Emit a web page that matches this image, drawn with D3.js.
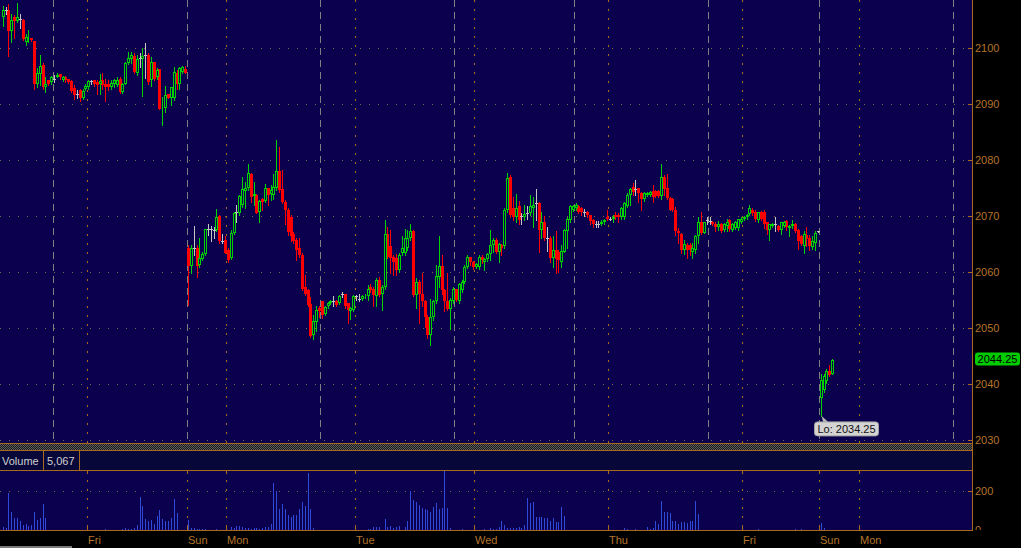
<!DOCTYPE html>
<html><head><meta charset="utf-8">
<script src="https://cdn.jsdelivr.net/npm/d3@7"></script>
<style>html,body{margin:0;padding:0;background:#000;overflow:hidden}svg{display:block}</style>
</head><body><svg id="c" width="1021" height="548"></svg>
<script>
// ---- data (30-minute bars, one entry per bar) ----
const open = [
2105.4,2106.7,2106.7,2103.0,2105.4,2104.8,2105.2,2104.9,2101.1,2101.5,
2101.8,2101.2,2093.6,2095.3,2096.9,2093.0,2094.2,2093.9,2094.5,2094.8,
2095.3,2094.2,2094.8,2094.4,2094.0,2092.8,2091.8,2092.4,2091.1,2092.7,
2092.9,2094.0,2094.2,2093.9,2093.5,2094.2,2093.6,2093.5,2092.9,2093.6,
2093.3,2094.4,2092.1,2093.6,2097.2,2097.9,2098.6,2095.5,2098.1,2097.9,
2098.7,2098.7,2094.2,2097.5,2094.7,2096.2,2089.2,2089.3,2091.8,2091.1,
2091.1,2095.5,2093.6,2095.7,2096.2,
2064.2,2061.1,2064.2,2064.2,2061.2,2062.3,2063.1,2067.6,2067.6,2067.4,
2067.4,2069.9,2065.5,2065.7,2063.9,2062.4,2066.9,2070.6,2070.4,2071.9,
2074.4,2074.9,2077.4,2073.6,2073.7,2070.6,2073.0,2072.6,2074.9,2073.8,
2073.7,2075.0,2078.0,2074.8,2072.5,2071.0,2069.8,2066.8,2065.7,2064.2,
2063.0,2057.3,2056.7,2054.3,2048.7,2051.1,2053.6,2054.8,2052.5,
2053.8,2054.4,2054.7,2054.7,2054.4,2056.0,2056.0,2054.4,2052.9,2053.2,
2055.6,2055.1,2055.1,2055.6,2055.6,2057.3,2057.0,2055.6,2058.5,2056.1,
2057.3,2066.7,2064.5,2062.7,2062.4,2060.3,2063.3,2063.3,2064.2,2066.0,
2067.3,2055.8,2058.2,2056.1,2054.7,2052.0,2048.7,2051.9,2054.7,2059.1,
2061.0,2056.7,2054.7,2053.3,2054.7,2056.9,2054.7,2056.7,2058.2,2060.9,
2062.6,2061.8,2060.8,2060.9,2062.7,2061.8,2062.2,2063.2,2064.8,2065.7,
2063.6,2064.8,2064.5,2071.0,2077.0,
2071.4,2069.8,2071.8,2070.0,2069.7,2070.4,2070.4,2071.4,2072.2,2072.3,
2067.5,2068.8,2066.0,2066.0,2062.5,2063.9,2063.5,2061.8,2063.6,2067.3,
2069.2,2071.0,2071.3,2071.8,2071.3,2070.7,2070.7,2070.1,2069.2,2068.5,
2068.5,2068.5,2068.8,
2069.8,2069.5,2069.4,2070.1,2070.1,2069.7,2069.7,2071.7,2073.7,2075.1,
2074.7,2074.9,2074.1,2072.9,2073.7,2073.7,2074.5,2074.5,2074.4,2073.5,
2077.0,2074.9,2073.1,2072.9,2071.1,2067.3,2066.7,2063.8,2064.8,2064.8,
2063.6,2063.8,2066.3,2068.9,2067.0,2069.2,2069.1,2068.9,2068.6,2067.9,
2068.5,2067.5,2068.2,2069.2,2067.5,2067.8,2067.8,2068.9,2069.4,2069.7,
2070.3,2071.1,2070.7,2069.2,2070.7,2070.7,2068.8,2067.5,2068.1,2068.5,
2068.2,2067.5,2068.1,2069.1,2067.8,2068.1,2068.5,2067.5,2066.3,2064.6,
2066.6,2066.0,2064.4,2065.2,2067.2,
2037.4,2038.9,2040.4,2042.3,2041.8];
const high = [
2107.4,2107.3,2107.8,2106.0,2105.8,2107.9,2106.1,2105.2,2102.5,2103.1,
2101.8,2101.2,2096.3,2098.7,2097.2,2094.7,2094.2,2094.9,2095.1,2095.4,
2095.3,2094.9,2094.9,2094.5,2094.2,2093.3,2092.4,2092.7,2092.7,2093.5,
2094.3,2094.3,2094.2,2094.2,2095.3,2095.5,2094.4,2094.2,2094.2,2094.5,
2094.8,2094.7,2093.7,2097.5,2099.3,2099.3,2099.0,2098.7,2099.0,2099.9,
2100.9,2099.0,2098.4,2097.5,2096.3,2096.2,2091.2,2093.1,2091.8,2093.0,
2096.6,2096.0,2096.6,2096.8,2096.7,
2064.8,2064.8,2068.2,2064.8,2066.0,2063.5,2067.7,2068.6,2068.2,2068.0,
2071.2,2070.1,2066.7,2066.3,2064.2,2067.4,2070.7,2071.9,2073.7,2077.0,
2076.1,2079.2,2077.6,2076.1,2073.8,2072.8,2073.2,2075.6,2075.0,2075.5,
2077.4,2083.5,2082.3,2078.2,2072.8,2071.3,2070.1,2067.1,2066.0,2066.0,
2063.3,2059.4,2057.0,2055.5,2052.3,2053.8,2053.9,2054.8,2053.9,
2054.6,2054.9,2055.7,2054.9,2055.9,2056.3,2056.1,2054.5,2053.7,2055.8,
2055.9,2056.0,2055.9,2056.1,2057.7,2057.8,2057.3,2058.8,2059.1,2057.6,
2069.2,2068.0,2067.5,2063.0,2063.1,2063.3,2066.3,2067.7,2067.4,2068.6,
2067.5,2058.9,2058.5,2059.7,2054.9,2052.3,2055.2,2055.0,2061.2,2066.3,
2063.0,2057.0,2059.8,2055.3,2057.3,2057.0,2058.0,2058.5,2061.2,2062.9,
2062.7,2062.0,2061.5,2063.0,2063.0,2062.4,2063.4,2067.5,2066.0,2066.0,
2065.1,2065.0,2071.3,2077.6,2077.3,
2073.4,2073.8,2072.6,2070.5,2071.9,2071.7,2073.7,2073.4,2074.8,2072.5,
2070.7,2070.0,2068.0,2066.3,2066.3,2067.3,2063.9,2064.8,2067.6,2069.7,
2071.9,2072.0,2072.2,2072.0,2071.6,2071.2,2070.9,2070.2,2069.5,2069.1,
2069.0,2069.2,2069.4,
2071.0,2069.8,2070.1,2070.6,2070.4,2071.6,2072.5,2074.0,2074.9,2075.9,
2076.4,2075.0,2074.3,2074.3,2074.3,2074.5,2075.5,2074.6,2074.6,2079.2,
2077.3,2077.5,2073.3,2073.1,2071.6,2067.8,2067.0,2065.6,2065.2,2065.1,
2065.1,2066.6,2069.7,2070.7,2068.9,2069.7,2069.8,2069.1,2068.8,2069.1,
2068.7,2068.7,2069.5,2069.4,2068.7,2069.0,2069.5,2069.7,2070.0,2070.3,
2071.9,2071.3,2071.0,2070.7,2070.9,2071.0,2068.9,2068.6,2068.7,2069.8,
2068.4,2068.9,2069.1,2069.2,2068.3,2069.2,2068.7,2067.7,2066.5,2067.2,
2068.0,2066.6,2066.4,2067.2,2067.3,
2041.8,2041.8,2042.6,2043.3,2044.5];
const low = [
2103.9,2106.1,2098.6,2101.1,2101.7,2104.6,2103.6,2101.4,2100.4,2101.1,
2101.2,2092.7,2092.9,2093.3,2092.7,2092.1,2093.3,2093.6,2093.9,2094.7,
2094.5,2094.1,2093.9,2093.7,2092.1,2090.8,2091.1,2090.5,2090.8,2092.5,
2092.7,2093.5,2093.1,2091.8,2091.7,2092.7,2090.5,2092.5,2092.7,2092.9,
2093.1,2092.0,2092.0,2093.5,2097.1,2097.2,2095.4,2095.1,2096.6,2091.4,
2094.6,2093.6,2093.1,2094.3,2094.5,2089.0,2086.2,2088.6,2091.0,2089.8,
2090.6,2092.7,2092.7,2095.5,2095.4,
2054.0,2059.7,2063.0,2059.1,2060.9,2062.1,2062.9,2066.6,2065.5,2066.0,
2067.3,2065.1,2065.1,2063.3,2061.8,2062.3,2066.7,2068.8,2070.1,2071.6,
2071.3,2074.6,2072.5,2071.9,2070.4,2068.8,2071.0,2072.5,2071.9,2072.8,
2073.0,2074.6,2074.3,2072.2,2068.5,2066.6,2065.5,2065.1,2062.1,2062.7,
2056.7,2055.8,2053.8,2048.4,2048.0,2049.4,2051.9,2051.7,2052.3,
2053.6,2054.2,2053.8,2053.9,2054.2,2055.5,2053.6,2050.8,2051.5,2053.0,
2055.0,2054.8,2054.9,2055.3,2055.0,2056.3,2053.8,2053.8,2055.6,2053.2,
2057.0,2062.4,2059.7,2059.4,2059.4,2060.0,2063.0,2063.0,2063.9,2065.7,
2055.6,2053.5,2050.8,2053.8,2050.2,2048.1,2046.9,2051.4,2054.4,2057.3,
2056.1,2052.9,2053.2,2049.7,2054.4,2054.7,2054.4,2056.4,2058.0,2060.6,
2061.2,2060.5,2060.6,2060.5,2061.5,2060.3,2062.0,2062.1,2063.6,2063.3,
2061.8,2063.0,2064.2,2070.7,2069.8,
2069.2,2068.9,2068.5,2068.5,2069.2,2069.5,2070.1,2067.9,2069.2,2063.6,
2066.1,2065.7,2063.7,2061.8,2060.9,2059.7,2060.0,2060.9,2063.5,2064.2,
2068.9,2070.8,2071.1,2070.5,2070.1,2070.0,2069.8,2068.6,2068.0,2067.9,
2067.9,2068.3,2068.6,
2069.2,2069.2,2068.8,2069.4,2068.8,2069.4,2069.5,2071.6,2071.9,2073.7,
2073.7,2072.5,2071.1,2072.7,2073.5,2073.5,2072.5,2073.3,2073.3,2072.9,
2073.7,2072.9,2071.0,2070.9,2066.6,2065.1,2063.3,2063.2,2062.4,2063.0,
2062.4,2063.3,2065.1,2066.7,2066.9,2068.6,2068.5,2068.3,2067.2,2067.5,
2067.1,2067.3,2067.3,2067.3,2067.3,2067.6,2067.5,2068.7,2069.2,2069.5,
2070.1,2070.2,2069.1,2068.9,2069.2,2067.8,2066.7,2065.6,2067.9,2067.2,
2067.3,2066.7,2067.9,2067.5,2066.4,2067.8,2067.1,2064.0,2064.8,2063.4,
2064.6,2063.9,2064.0,2063.9,2067.1,
2034.25,2038.6,2040.1,2041.4,2041.7];
const close = [
2106.7,2106.7,2103.0,2104.9,2104.8,2105.4,2105.2,2101.5,2102.0,2101.8,
2101.4,2093.6,2095.4,2096.7,2092.9,2093.6,2093.6,2094.7,2094.5,2095.2,
2094.7,2094.7,2094.2,2093.9,2092.3,2091.5,2091.8,2091.0,2092.3,2093.2,
2094.0,2094.0,2093.6,2093.3,2094.0,2093.3,2092.9,2092.9,2093.7,2094.2,
2094.3,2092.1,2093.6,2097.2,2098.1,2098.7,2095.7,2097.9,2098.1,2098.5,
2098.7,2093.9,2097.5,2094.5,2096.1,2089.1,2089.5,2091.5,2091.1,2092.9,
2095.6,2093.6,2096.3,2096.5,2095.5,
2061.1,2064.2,2064.2,2061.1,2062.4,2063.1,2067.6,2067.6,2067.6,2067.4,
2069.8,2065.5,2065.5,2063.4,2062.1,2066.9,2070.4,2070.6,2073.5,2074.8,
2075.0,2077.6,2073.4,2073.8,2070.5,2072.6,2072.5,2074.9,2073.7,2074.6,
2075.2,2078.0,2074.6,2072.4,2071.0,2067.1,2066.3,2065.5,2063.9,2062.9,
2057.0,2056.1,2054.0,2048.6,2051.2,2053.2,2052.9,2052.3,2053.7,
2054.4,2054.7,2054.7,2054.1,2055.7,2056.0,2053.8,2053.2,2053.5,2055.6,
2055.6,2055.1,2055.7,2055.9,2057.0,2056.7,2055.9,2058.5,2055.9,2057.3,
2066.7,2062.7,2062.4,2061.8,2060.3,2063.0,2064.2,2066.0,2066.0,2067.3,
2055.8,2058.2,2056.1,2054.7,2052.0,2048.7,2051.9,2054.7,2059.2,2061.0,
2056.7,2054.7,2053.3,2054.9,2056.9,2055.0,2057.8,2058.2,2060.9,2062.6,
2061.8,2060.9,2061.3,2062.7,2062.1,2062.2,2063.2,2064.8,2065.7,2063.6,
2064.9,2064.3,2071.0,2076.7,2070.1,
2069.7,2071.4,2069.2,2070.0,2070.3,2070.4,2071.8,2072.0,2072.2,2067.5,
2068.8,2066.0,2066.0,2062.5,2063.9,2062.3,2062.1,2063.7,2067.5,2069.4,
2071.7,2071.8,2071.9,2070.7,2070.7,2070.7,2070.1,2069.0,2068.5,2068.5,
2068.5,2068.9,2069.2,
2069.4,2069.5,2069.8,2069.7,2069.7,2071.3,2072.2,2073.7,2074.7,2074.3,
2074.7,2074.1,2072.9,2074.0,2074.1,2074.3,2073.4,2073.5,2073.5,2077.0,
2074.7,2073.1,2071.1,2071.1,2067.2,2066.9,2063.8,2065.0,2063.9,2063.8,
2064.2,2066.4,2068.9,2067.0,2068.8,2069.2,2069.1,2068.5,2067.9,2068.5,
2067.3,2068.5,2068.9,2067.6,2068.5,2068.8,2069.4,2069.5,2069.8,2070.1,
2071.3,2070.4,2069.4,2070.6,2069.4,2068.5,2067.5,2068.5,2068.5,2068.5,
2067.5,2068.8,2068.9,2067.9,2068.2,2068.5,2067.3,2065.4,2065.0,2066.7,
2065.8,2064.6,2065.5,2067.0,2067.2,
2040.7,2041.3,2042.2,2041.6,2044.25];
const volume = [
14,9,189,91,63,60,44,26,32,21,26,91,53,60,132,63,
0,0,0,0,0,0,0,0,0,0,0,0,0,0,0,0,0,0,0,0,4,0,0,0,0,0,
4,9,4,4,11,26,168,126,58,49,53,32,74,105,58,46,49,63,161,89,
0,0,0,
53,11,11,7,4,4,4,0,0,0,4,0,0,0,0,
14,9,21,21,14,11,11,7,11,11,7,11,14,14,32,244,202,111,135,109,75,65,77,79,111,144,126,295,111,11,
0,0,0,0,0,0,0,0,0,0,0,0,0,0,0,0,0,0,
4,7,14,14,14,0,58,14,21,11,14,21,0,14,49,200,154,144,128,112,109,105,91,119,137,111,114,305,116,11,
0,0,0,4,0,0,0,0,0,0,0,
7,0,9,7,7,
14,47,26,11,11,11,11,14,11,26,163,137,144,68,65,68,63,63,47,63,42,42,121,74,
0,0,0,0,0,0,0,0,0,0,0,0,0,0,0,0,0,0,0,0,
11,4,0,0,4,0,0,0,
16,5,11,47,32,151,91,95,89,47,47,32,42,42,37,47,47,151,84,
0,0,0,0,0,0,0,0,0,0,0,0,0,0,0,0,0,0,0,0,
4,0,0,0,0,0,0,0,0,0,0,0,0,4,0,4,0,0,0,0,0,0,
37,11,0,0,0];
const priceTicks = [2030,2040,2050,2060,2070,2080,2090,2100];
const volumeTicks = [0,200];
const dayLabels = ['Fri','Sun','Mon','Tue','Wed','Thu','Fri','Sun','Mon'];
const dayBars = [29.5,64.5,78.5,123.5,165.5,212.5,259.5,286.5,300.5];
const sessionBars = [17.5,64.5,111.5,158.5,200.5,247.5,286.5,333.5];
const slotCount = 340;
const lastPrice = 2044.25;
const lowPrice = 2034.25;
const lowBar = 287;
const volumeReading = '5,067';

// ---- drawing ----
const svg = d3.select('#c');
const PR = 972;             // right edge of plotting panes
const NAVY = '#0b004e', ORANGE = '#a8691f', LABEL = '#b4742c';
const GREEN = '#00d400', RED = '#ff0000', GRAY = '#c4c4c4';
const FONT = 'Liberation Sans, Arial, sans-serif';

const x = d3.scaleLinear().domain([0, slotCount]).range([2.7, 2.7 + 2.85 * slotCount]);
const y = d3.scaleLinear().domain([2030, 2100]).range([439.7, 47.7]);
const yv = d3.scaleLinear().domain([0, 200]).range([530, 491.3]);

svg.append('rect').attr('width', 1021).attr('height', 548).attr('fill', '#000');

const defs = svg.append('defs');
defs.append('clipPath').attr('id', 'pclip').append('rect').attr('x', 0).attr('y', 0).attr('width', PR).attr('height', 443);
const pat = defs.append('pattern').attr('id', 'dither').attr('width', 2).attr('height', 2).attr('patternUnits', 'userSpaceOnUse');
pat.append('rect').attr('width', 2).attr('height', 2).attr('fill', '#1c1c1c');
pat.append('rect').attr('width', 1).attr('height', 1).attr('fill', '#5a5a5a');
pat.append('rect').attr('x', 1).attr('y', 1).attr('width', 1).attr('height', 1).attr('fill', '#5a5a5a');

// price pane
svg.append('rect').attr('x', 0).attr('y', 0).attr('width', PR).attr('height', 443).attr('fill', NAVY);
const grid = svg.append('g').attr('shape-rendering', 'crispEdges');
grid.selectAll('.hg').data(priceTicks).join('line')
  .attr('x1', 0).attr('x2', PR).attr('y1', d => Math.round(y(d)) + 0.5).attr('y2', d => Math.round(y(d)) + 0.5)
  .attr('stroke', '#7d6640').attr('stroke-dasharray', '1,8');
const sessionSet = new Set(sessionBars);
grid.selectAll('.vd').data(dayBars.filter(d => !sessionSet.has(d))).join('line')
  .attr('x1', d => Math.round(x(d)) + 0.5).attr('x2', d => Math.round(x(d)) + 0.5)
  .attr('y1', 0).attr('y2', 443).attr('stroke', ORANGE).attr('stroke-dasharray', '2,7');
grid.selectAll('.vs').data(sessionBars).join('line')
  .attr('x1', d => Math.round(x(d)) + 0.5).attr('x2', d => Math.round(x(d)) + 0.5)
  .attr('y1', 0).attr('y2', 443).attr('stroke', '#808080').attr('stroke-dasharray', '7,5');

// candles
const n = Math.min(open.length, high.length, low.length, close.length);
const bars = d3.range(n).map(i => ({ i, o: open[i], h: high[i], l: low[i], c: close[i] }));
const cg = svg.append('g').attr('clip-path', 'url(#pclip)').attr('shape-rendering', 'crispEdges');
const col = d => d.c > d.o ? GREEN : d.c < d.o ? RED : GRAY;
cg.selectAll('.wick').data(bars).join('line')
  .attr('x1', d => Math.round(x(d.i)) + 0.5).attr('x2', d => Math.round(x(d.i)) + 0.5)
  .attr('y1', d => Math.round(y(d.h))).attr('y2', d => Math.round(y(d.l)) + 1)
  .attr('stroke', col);
// down bodies (filled)
cg.selectAll('.dn').data(bars.filter(d => d.c < d.o)).join('rect')
  .attr('x', d => Math.round(x(d.i)) - 1).attr('width', 3)
  .attr('y', d => Math.round(y(d.o)))
  .attr('height', d => Math.max(1, Math.round(y(d.c)) - Math.round(y(d.o))))
  .attr('fill', RED);
// up bodies (hollow)
cg.selectAll('.up').data(bars.filter(d => d.c > d.o)).join('rect')
  .attr('x', d => Math.round(x(d.i)) - 0.5).attr('width', 2)
  .attr('y', d => Math.round(y(d.c)) + 0.5)
  .attr('height', d => Math.max(0, Math.round(y(d.o)) - Math.round(y(d.c)) - 1))
  .attr('fill', NAVY).attr('stroke', GREEN);
// doji
cg.selectAll('.dj').data(bars.filter(d => d.c === d.o)).join('line')
  .attr('x1', d => Math.round(x(d.i)) - 1).attr('x2', d => Math.round(x(d.i)) + 2)
  .attr('y1', d => Math.round(y(d.c)) + 0.5).attr('y2', d => Math.round(y(d.c)) + 0.5)
  .attr('stroke', GRAY);

// low callout
const lx = Math.round(x(lowBar)) + 0.5, ly = y(lowPrice);
svg.append('path').attr('d', `M${lx},${ly} L${lx + 2},${ly + 7} L${lx + 8},${ly + 7} Z`).attr('fill', '#b8b8b8');
svg.append('rect').attr('x', lx - 7).attr('y', ly + 6).attr('width', 64).attr('height', 14).attr('rx', 3)
  .attr('fill', '#d4d4d4').attr('stroke', '#a0a0a0');
svg.append('text').attr('x', lx - 4).attr('y', ly + 17).attr('font-family', FONT).attr('font-size', 11)
  .attr('fill', '#111').text('Lo: ' + lowPrice.toFixed(2));

// right border + price axis
svg.append('line').attr('x1', PR + 0.5).attr('x2', PR + 0.5).attr('y1', 0).attr('y2', 530.5).attr('stroke', ORANGE);
const pa = svg.append('g').attr('shape-rendering', 'crispEdges');
pa.selectAll('.pt').data(priceTicks).join('line')
  .attr('x1', PR - 4).attr('x2', PR).attr('y1', d => Math.round(y(d)) + 0.5).attr('y2', d => Math.round(y(d)) + 0.5)
  .attr('stroke', ORANGE);
svg.append('g').selectAll('text').data(priceTicks).join('text')
  .attr('x', 975).attr('y', d => y(d) + 4).attr('font-family', FONT).attr('font-size', 11)
  .attr('fill', LABEL).text(d => d);
// last price tag
const ty = y(lastPrice);
svg.append('rect').attr('x', 975).attr('y', ty - 7.5).attr('width', 45).attr('height', 13).attr('rx', 3).attr('fill', '#00cc00');
svg.append('text').attr('x', 997.5).attr('y', ty + 3).attr('text-anchor', 'middle').attr('font-family', FONT)
  .attr('font-size', 11).attr('fill', '#000').text(lastPrice.toFixed(2));

// separator
svg.append('rect').attr('x', 0).attr('y', 444).attr('width', PR).attr('height', 6).attr('fill', 'url(#dither)');
[443.5, 450.5, 470.5].forEach(v => svg.append('line').attr('x1', 0).attr('x2', PR).attr('y1', v).attr('y2', v).attr('stroke', ORANGE));
// volume header
svg.append('rect').attr('x', 0).attr('y', 451).attr('width', PR).attr('height', 19).attr('fill', '#07073a');
[43.5, 79.5].forEach(v => svg.append('line').attr('x1', v).attr('x2', v).attr('y1', 451).attr('y2', 470).attr('stroke', ORANGE));
svg.append('text').attr('x', 2).attr('y', 465).attr('font-family', FONT).attr('font-size', 11).attr('fill', '#d0d0d0').text('Volume');
svg.append('text').attr('x', 47).attr('y', 465).attr('font-family', FONT).attr('font-size', 11).attr('fill', '#d0d0d0').text(volumeReading);

// volume pane
svg.append('rect').attr('x', 0).attr('y', 471).attr('width', PR).attr('height', 59).attr('fill', NAVY);
const vg = svg.append('g').attr('shape-rendering', 'crispEdges');
vg.selectAll('.vh').data(volumeTicks.filter(d => d > 0)).join('line')
  .attr('x1', 0).attr('x2', PR).attr('y1', d => Math.round(yv(d)) + 0.5).attr('y2', d => Math.round(yv(d)) + 0.5)
  .attr('stroke', '#7d6640').attr('stroke-dasharray', '1,8');
vg.selectAll('.vdl').data(dayBars).join('line')
  .attr('x1', d => Math.round(x(d)) + 0.5).attr('x2', d => Math.round(x(d)) + 0.5)
  .attr('y1', 471).attr('y2', 530).attr('stroke', ORANGE).attr('stroke-dasharray', '2,7');
vg.selectAll('.vb').data(volume.map((v, i) => ({ i, v })).filter(d => d.v > 0)).join('rect')
  .attr('x', d => Math.round(x(d.i))).attr('width', 1)
  .attr('y', d => Math.round(yv(d.v))).attr('height', d => 530 - Math.round(yv(d.v)))
  .attr('fill', '#2f4ad8');
// axis ticks top/bottom of volume pane
vg.selectAll('.tb').data(dayBars).join('line')
  .attr('x1', d => Math.round(x(d)) + 0.5).attr('x2', d => Math.round(x(d)) + 0.5)
  .attr('y1', 527).attr('y2', 530).attr('stroke', ORANGE);
vg.selectAll('.tt').data(dayBars).join('line')
  .attr('x1', d => Math.round(x(d)) + 0.5).attr('x2', d => Math.round(x(d)) + 0.5)
  .attr('y1', 471).attr('y2', 474).attr('stroke', ORANGE);
svg.append('line').attr('x1', 0).attr('x2', PR + 1).attr('y1', 530.5).attr('y2', 530.5).attr('stroke', ORANGE);
// volume axis
vg.selectAll('.vt').data(volumeTicks).join('line')
  .attr('x1', PR - 4).attr('x2', PR).attr('y1', d => Math.round(yv(d)) + 0.5).attr('y2', d => Math.round(yv(d)) + 0.5)
  .attr('stroke', ORANGE);
defs.append('clipPath').attr('id', 'vclip').append('rect').attr('x', 973).attr('y', 471).attr('width', 48).attr('height', 59);
svg.append('g').attr('clip-path', 'url(#vclip)').selectAll('text').data(volumeTicks).join('text')
  .attr('x', 975).attr('y', d => yv(d) + 4).attr('font-family', FONT).attr('font-size', 11)
  .attr('fill', LABEL).text(d => d);

// day labels
svg.append('g').selectAll('text').data(dayBars).join('text')
  .attr('x', d => Math.round(x(d)) + 1).attr('y', 544).attr('font-family', FONT).attr('font-size', 11)
  .attr('fill', LABEL).text((d, k) => dayLabels[k]);

// scrollbar stub
svg.append('rect').attr('x', 0).attr('y', 546).attr('width', 72).attr('height', 2).attr('fill', '#7a7a7a');
</script></body></html>
